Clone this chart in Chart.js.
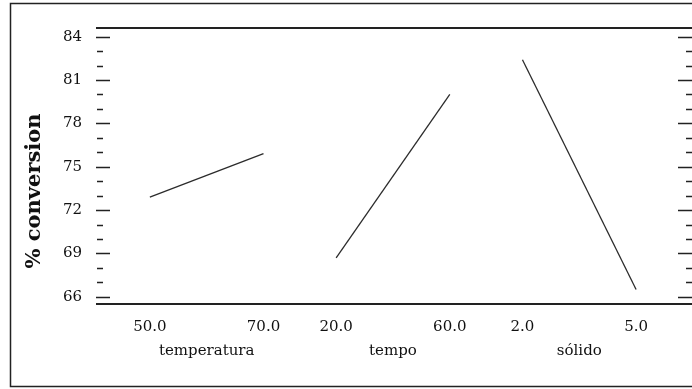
<!DOCTYPE html>
<html>
<head>
<meta charset="utf-8">
<script src="https://cdn.jsdelivr.net/npm/chart.js@4.4.0/dist/chart.umd.min.js"></script>
<style>
html, body { margin: 0; padding: 0; background: #fff; }
#wrap { width: 692px; height: 389px; }
</style>
</head>
<body>
<div id="wrap"><canvas id="myChart"></canvas></div>
<script>
// main effects for % conversion
const factors = ['temperatura', 'tempo', 'sólido'];
const levels = [['50.0', '70.0'], ['20.0', '60.0'], ['2.0', '5.0']];
const means = [[72.9, 75.9], [68.7, 80.0], [82.4, 66.5]];
const yTicks = [66, 69, 72, 75, 78, 81, 84];
const yTitle = '% conversion';

// each factor gets a panel of width 1 on the x axis, low level at i, high at i + span
const span = 0.61;
const tickPos = [];
const tickText = [];
levels.forEach((lv, i) => {
    lv.forEach((t, j) => {
        tickPos.push(i + j * span);
        tickText.push(t);
    });
});

const datasets = factors.map((f, i) => ({
    label: f,
    data: means[i].map((v, j) => ({ x: i + j * span, y: v })),
    borderColor: '#2b2b2b',
    borderWidth: 1.3,
    pointRadius: 0,
    tension: 0
}));

const serif = '"DejaVu Serif", "Liberation Serif", serif';

const framePlugin = {
    id: 'frame',
    afterDraw(chart) {
        const ctx = chart.ctx;
        const a = chart.chartArea;
        const y = chart.scales.y;
        const x = chart.scales.x;
        ctx.save();
        ctx.strokeStyle = '#222';

        // outer box
        ctx.lineWidth = 1.5;
        ctx.beginPath();
        ctx.moveTo(692, 3.5);
        ctx.lineTo(10.5, 3.5);
        ctx.lineTo(10.5, 386.5);
        ctx.lineTo(692, 386.5);
        ctx.stroke();

        // top and bottom lines of the plot
        ctx.lineWidth = 2;
        ctx.beginPath();
        ctx.moveTo(a.left, a.top);
        ctx.lineTo(a.right, a.top);
        ctx.moveTo(a.left, a.bottom);
        ctx.lineTo(a.right, a.bottom);
        ctx.stroke();

        // tick marks on both sides
        ctx.lineWidth = 1.6;
        ctx.beginPath();
        for (let v = yTicks[0]; v <= yTicks[yTicks.length - 1]; v++) {
            const py = Math.round(y.getPixelForValue(v)) + 0.5;
            const major = yTicks.includes(v);
            const len = major ? 14 : 6;
            const off = major ? 0 : 1;
            ctx.moveTo(a.left + off, py);
            ctx.lineTo(a.left + off + len, py);
            ctx.moveTo(a.right - len, py);
            ctx.lineTo(a.right, py);
        }
        ctx.stroke();

        // factor names under each panel
        ctx.fillStyle = '#111';
        ctx.font = '15px ' + serif;
        ctx.textAlign = 'center';
        ctx.textBaseline = 'middle';
        factors.forEach((f, i) => {
            const cx = (x.getPixelForValue(i) + x.getPixelForValue(i + span)) / 2;
            ctx.fillText(f, cx, 351);
        });

        // y title
        ctx.translate(35, (a.top + a.bottom) / 2 + 25);
        ctx.rotate(-Math.PI / 2);
        ctx.font = 'bold 21px ' + serif;
        ctx.fillText(yTitle, 0, 0);
        ctx.restore();
    }
};

const ctx = document.getElementById('myChart').getContext('2d');
const myChart = new Chart(ctx, {
    type: 'line',
    data: { datasets: datasets },
    options: {
        responsive: true,
        maintainAspectRatio: false,
        animation: false,
        layout: { padding: { top: 28, right: 0, left: 0, bottom: 0 } },
        plugins: {
            legend: { display: false },
            tooltip: { enabled: false }
        },
        scales: {
            x: {
                type: 'linear',
                min: -0.289,
                max: 2 + span + 0.30,
                grid: { display: false, drawTicks: false },
                border: { display: false },
                afterBuildTicks: (scale) => {
                    scale.ticks = tickPos.map(v => ({ value: v }));
                },
                afterFit: (scale) => { scale.height = 85; },
                ticks: {
                    autoSkip: false,
                    maxRotation: 0,
                    padding: 14,
                    color: '#111',
                    font: { family: serif, size: 15 },
                    callback: (value) => {
                        const k = tickPos.findIndex(p => Math.abs(p - value) < 1e-6);
                        return k >= 0 ? tickText[k] : '';
                    }
                }
            },
            y: {
                min: 65.5,
                max: 84.6,
                grid: { display: false, drawTicks: false },
                border: { display: false },
                afterBuildTicks: (scale) => {
                    scale.ticks = yTicks.map(v => ({ value: v }));
                },
                afterFit: (scale) => { scale.width = 96; },
                ticks: {
                    padding: 14,
                    color: '#111',
                    font: { family: serif, size: 15 }
                }
            }
        }
    },
    plugins: [framePlugin]
});
</script>
</body>
</html>
